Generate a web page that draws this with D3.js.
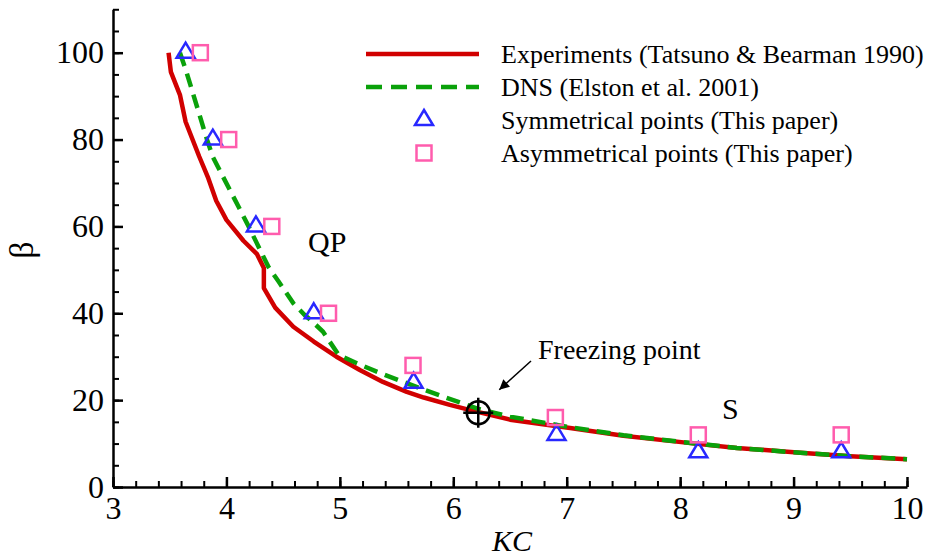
<!DOCTYPE html>
<html>
<head>
<meta charset="utf-8">
<script src="https://cdn.jsdelivr.net/npm/d3@7"></script>
<style>
  html, body { margin: 0; padding: 0; background: #fff; }
  svg { display: block; }
  text { font-family: "Liberation Serif", "Times New Roman", serif; fill: #000; }
</style>
</head>
<body>
<svg id="chart" width="927" height="559"></svg>
<script>
// Experimental boundary (Tatsuno & Bearman 1990)
const expKC   = [3.49, 3.51, 3.59, 3.64, 3.76, 3.84, 3.91, 4.00, 4.15, 4.27, 4.33, 4.33, 4.43, 4.59, 4.77, 4.97, 5.18, 5.38, 5.59, 5.74, 5.97, 6.15, 6.50, 7.03, 7.50, 8.09, 8.50, 9.06, 9.50, 10.0];
const expBeta = [100, 95.6, 90.3, 84.1, 76.1, 71.1, 65.9, 61.5, 56.7, 53.6, 50.4, 45.8, 41.3, 36.9, 33.5, 30.0, 26.9, 24.2, 21.9, 20.6, 18.9, 17.7, 15.5, 13.6, 11.8, 10.1, 9.0, 7.9, 7.1, 6.4];

// DNS boundary (Elston et al. 2001)
const dnsKC   = [3.59, 3.64, 3.83, 3.88, 4.19, 4.37, 4.46, 4.59, 4.69, 4.74, 4.85, 4.99, 5.15, 5.33, 5.52, 5.71, 5.91, 6.22, 6.50, 7.00, 7.50, 8.00, 8.50, 9.00, 9.50, 10.0];
const dnsBeta = [100, 96.2, 79.9, 76.0, 60.3, 50.7, 47.3, 42.3, 39.6, 38.5, 35.8, 30.4, 28.5, 26.5, 24.6, 22.7, 20.8, 18.0, 16.2, 13.9, 11.9, 10.4, 9.0, 8.0, 7.1, 6.4];

// Computed cases
const symKC    = [3.64, 3.88, 4.26, 4.77, 5.65, 6.91, 8.16, 9.42];
const symBeta  = [100, 80, 60, 40, 24, 12, 8, 8];
const asymKC   = [3.77, 4.02, 4.40, 4.90, 5.645, 6.90, 8.16, 9.42];
const asymBeta = [100, 80, 60, 40, 28, 16, 12, 12];

// Freezing point
const freezeKC = [6.22];
const freezeBeta = [17.1];

// Axis ticks
const xMajor = [3, 4, 5, 6, 7, 8, 9, 10];
const yMajor = [0, 20, 40, 60, 80, 100];

const legendLabels = [
  "Experiments (Tatsuno & Bearman 1990)",
  "DNS (Elston et al. 2001)",
  "Symmetrical points (This paper)",
  "Asymmetrical points (This paper)"
];

const RED = "#d10000", GREEN = "#0aa10a", BLUE = "#2828ff", PINK = "#ff5cad";

const svg = d3.select("#chart");
const x = d3.scaleLinear().domain([3, 10]).range([113, 907]);
const y = d3.scaleLinear().domain([0, 110]).range([487, 9.27]);

// Axes with inward ticks
const xMinor = d3.range(3, 10.001, 0.2).map(v => +v.toFixed(2));
const yMinor = d3.range(0, 110.001, 5);

svg.append("g").attr("transform", "translate(0,487)")
  .call(d3.axisBottom(x).tickValues(xMinor).tickSize(-6).tickSizeOuter(0).tickFormat(""))
  .call(g => g.select(".domain").remove())
  .call(g => g.selectAll("line").attr("stroke-width", 2));
svg.append("g").attr("transform", "translate(113,0)")
  .call(d3.axisLeft(y).tickValues(yMinor).tickSize(-6).tickSizeOuter(0).tickFormat(""))
  .call(g => g.select(".domain").remove())
  .call(g => g.selectAll("line").attr("stroke-width", 2));

const gx = svg.append("g").attr("transform", "translate(0,487)")
  .call(d3.axisBottom(x).tickValues(xMajor).tickSize(-10).tickSizeOuter(0).tickPadding(9).tickFormat(d3.format("d")));
gx.select(".domain").attr("stroke-width", 2.5);
gx.selectAll("line").attr("stroke-width", 2.5);
gx.selectAll("text").attr("font-size", 32).attr("font-family", "Liberation Serif, serif");

const gy = svg.append("g").attr("transform", "translate(113,0)")
  .call(d3.axisLeft(y).tickValues(yMajor).tickSize(-10).tickSizeOuter(0).tickPadding(9).tickFormat(d3.format("d")));
gy.select(".domain").attr("stroke-width", 2.5);
gy.selectAll("line").attr("stroke-width", 2.5);
gy.selectAll("text").attr("font-size", 32).attr("font-family", "Liberation Serif, serif");

// Axis titles
svg.append("text").attr("x", 512).attr("y", 551).attr("text-anchor", "middle")
  .attr("font-size", 30).attr("font-style", "italic").text("KC");
svg.append("text").attr("transform", "translate(33,250) rotate(-90)")
  .attr("text-anchor", "middle").attr("font-size", 34).text("β");

// Boundary curves
const line = d3.line().x(d => x(d[0])).y(d => y(d[1]));
const expData = expKC.map((k, i) => [k, expBeta[i]]);
const dnsData = dnsKC.map((k, i) => [k, dnsBeta[i]]);

svg.append("path").datum(expData).attr("d", line)
  .attr("fill", "none").attr("stroke", RED).attr("stroke-width", 4.5)
  .attr("stroke-linejoin", "round");
svg.append("path").datum(dnsData).attr("d", line)
  .attr("fill", "none").attr("stroke", GREEN).attr("stroke-width", 4.5)
  .attr("stroke-dasharray", "14,8");

// Markers
const triPath = "M0,-10 L9,5 L-9,5 Z";
function drawTri(g, cx, cy) {
  g.append("path").attr("d", triPath).attr("transform", `translate(${cx},${cy})`)
    .attr("fill", "none").attr("stroke", BLUE).attr("stroke-width", 2.5)
    .attr("stroke-linejoin", "miter");
}
function drawSq(g, cx, cy) {
  g.append("rect").attr("x", cx - 7.5).attr("y", cy - 7.5).attr("width", 15).attr("height", 15)
    .attr("fill", "none").attr("stroke", PINK).attr("stroke-width", 2.5);
}
const marks = svg.append("g");
symKC.forEach((k, i) => drawTri(marks, x(k), y(symBeta[i])));
asymKC.forEach((k, i) => drawSq(marks, x(k), y(asymBeta[i])));

// Freezing point crosshair
const fx = x(freezeKC[0]), fy = y(freezeBeta[0]);
const fz = svg.append("g").attr("stroke", "#000").attr("stroke-width", 2.5).attr("fill", "none");
fz.append("circle").attr("cx", fx).attr("cy", fy).attr("r", 11.5);
fz.append("line").attr("x1", fx - 15).attr("x2", fx + 15).attr("y1", fy).attr("y2", fy);
fz.append("line").attr("x1", fx).attr("x2", fx).attr("y1", fy - 15).attr("y2", fy + 15);

// Annotation arrow and labels
svg.append("defs").append("marker").attr("id", "arrowHead")
  .attr("viewBox", "0 0 10 10").attr("refX", 10).attr("refY", 5)
  .attr("markerWidth", 16).attr("markerHeight", 10).attr("markerUnits", "userSpaceOnUse")
  .attr("orient", "auto")
  .append("path").attr("d", "M0,0 L10,5 L0,10 Z").attr("fill", "#000");
svg.append("line").attr("x1", 531).attr("y1", 361).attr("x2", fx + 21).attr("y2", fy - 23)
  .attr("stroke", "#000").attr("stroke-width", 1.5).attr("marker-end", "url(#arrowHead)");
svg.append("text").attr("x", 538).attr("y", 359).attr("font-size", 28).text("Freezing point");
svg.append("text").attr("x", 308).attr("y", 252).attr("font-size", 30).text("QP");
svg.append("text").attr("x", 722).attr("y", 419).attr("font-size", 30).text("S");

// Legend
const lg = svg.append("g");
const rowY = [54, 87, 120, 153];
lg.append("line").attr("x1", 366).attr("x2", 479).attr("y1", rowY[0]).attr("y2", rowY[0])
  .attr("stroke", RED).attr("stroke-width", 4.5);
lg.append("line").attr("x1", 366).attr("x2", 479).attr("y1", rowY[1]).attr("y2", rowY[1])
  .attr("stroke", GREEN).attr("stroke-width", 4.5).attr("stroke-dasharray", "16,9");
drawTri(lg, 424, rowY[2]);
drawSq(lg, 424, rowY[3]);
legendLabels.forEach((t, i) => {
  lg.append("text").attr("x", 501).attr("y", rowY[i] + 9).attr("font-size", 26).text(t);
});
</script>
</body>
</html>
